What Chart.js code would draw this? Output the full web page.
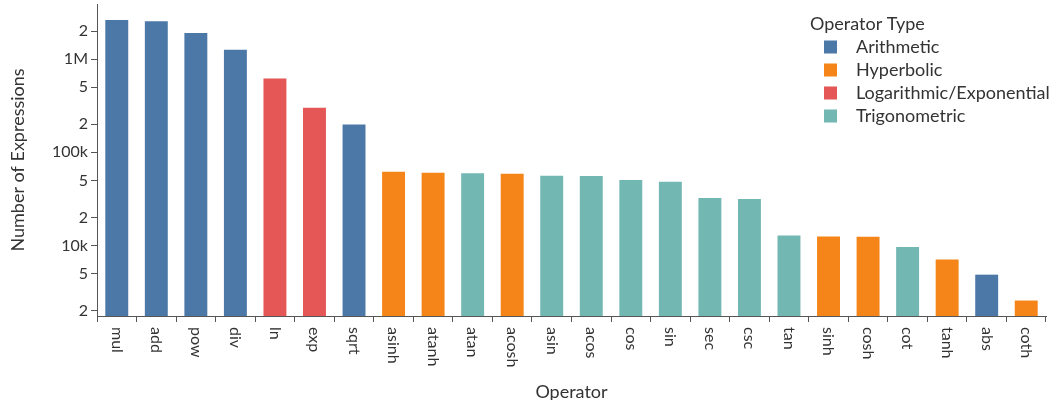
<!DOCTYPE html>
<html>
<head>
<meta charset="utf-8">
<script src="https://cdn.jsdelivr.net/npm/chart.js@4.4.1/dist/chart.umd.min.js"></script>
<style>
  html, body { margin: 0; padding: 0; background: #fff; }
  #wrap { width: 1060px; height: 400px; position: relative; }
</style>
</head>
<body>
<div id="wrap"><canvas id="chart"></canvas></div>
<script>
const operators = ["mul", "add", "pow", "div", "ln", "exp", "sqrt", "asinh", "atanh", "atan", "acosh", "asin",
  "acos", "cos", "sin", "sec", "csc", "tan", "sinh", "cosh", "cot", "tanh", "abs", "coth"];
const expressionCounts = [2620000, 2550000, 1910000, 1260000, 620000, 301000, 199000, 62000, 60400, 59500, 59000, 56000,
  55700, 50500, 48400, 32400, 31600, 12800, 12500, 12400, 9660, 7060, 4870, 2570];
const operatorTypes = ["Arithmetic", "Arithmetic", "Arithmetic", "Arithmetic", "Logarithmic/Exponential",
  "Logarithmic/Exponential", "Arithmetic", "Hyperbolic", "Hyperbolic", "Trigonometric", "Hyperbolic", "Trigonometric",
  "Trigonometric", "Trigonometric", "Trigonometric", "Trigonometric", "Trigonometric", "Trigonometric", "Hyperbolic",
  "Hyperbolic", "Trigonometric", "Hyperbolic", "Arithmetic", "Hyperbolic"];
const typeNames = ["Arithmetic", "Hyperbolic", "Logarithmic/Exponential", "Trigonometric"];
const typeColors = ["#4c78a8", "#f58518", "#e45756", "#72b7b2"];
const yTickValues = [2000, 5000, 10000, 20000, 50000, 100000, 200000, 500000, 1000000, 2000000];
const yTickLabels = ["2", "5", "10k", "2", "5", "100k", "2", "5", "1M", "2"];

const FONT = "Lato";
const TEXT_COLOR = "#333";
const AXIS_COLOR = "#555";

const barColors = operatorTypes.map((t) => typeColors[typeNames.indexOf(t)]);

// x tick labels read top-to-bottom, which chart.js can't do on its own
const xLabelPlugin = {
  id: "xLabels",
  afterDraw(chart) {
    const ctx = chart.ctx;
    const xs = chart.scales.x;
    ctx.save();
    ctx.font = "16px " + FONT;
    ctx.fillStyle = TEXT_COLOR;
    ctx.textAlign = "left";
    ctx.textBaseline = "middle";
    operators.forEach((op, i) => {
      ctx.save();
      ctx.translate(xs.getPixelForTick(i), xs.top + 11);
      ctx.rotate(Math.PI / 2);
      ctx.fillText(op, 0, 0);
      ctx.restore();
    });
    ctx.restore();
  },
};

// legend sits over the top right of the plot
const legendPlugin = {
  id: "typeLegend",
  afterDraw(chart) {
    const ctx = chart.ctx;
    const x0 = 810;
    ctx.save();
    ctx.font = "18px " + FONT;
    ctx.fillStyle = TEXT_COLOR;
    ctx.textAlign = "left";
    ctx.textBaseline = "middle";
    ctx.fillText("Operator Type", x0, 24);
    typeNames.forEach((name, i) => {
      const cy = 47 + i * 23;
      ctx.fillStyle = typeColors[i];
      ctx.fillRect(x0 + 14, cy - 6.5, 13, 13);
      ctx.fillStyle = TEXT_COLOR;
      ctx.fillText(name, x0 + 46, cy);
    });
    ctx.restore();
  },
};

new Chart(document.getElementById("chart").getContext("2d"), {
  type: "bar",
  data: {
    labels: operators,
    datasets: [
      {
        label: "Number of Expressions",
        data: expressionCounts,
        backgroundColor: barColors,
        borderWidth: 0,
        categoryPercentage: 1,
        barPercentage: 0.58,
      },
    ],
  },
  options: {
    responsive: true,
    maintainAspectRatio: false,
    animation: false,
    layout: {
      padding: { top: 4, right: 14, bottom: -3, left: 0 },
    },
    plugins: {
      legend: { display: false },
      tooltip: { enabled: false },
    },
    scales: {
      x: {
        type: "category",
        grid: {
          display: true,
          drawOnChartArea: false,
          drawTicks: true,
          tickLength: 6,
          color: AXIS_COLOR,
        },
        border: { display: true, color: AXIS_COLOR, width: 1 },
        ticks: { display: false, autoSkip: false },
        title: {
          display: true,
          text: "Operator",
          color: TEXT_COLOR,
          font: { family: FONT, size: 18 },
          padding: 0,
        },
        afterFit(scale) {
          scale.height = 87;
          scale.paddingLeft = 0;
          scale.paddingRight = 0;
        },
      },
      y: {
        type: "logarithmic",
        min: 1754,
        max: 3900000,
        grid: {
          display: true,
          drawOnChartArea: false,
          drawTicks: true,
          tickLength: 6,
          color: AXIS_COLOR,
        },
        border: { display: true, color: AXIS_COLOR, width: 1 },
        afterBuildTicks(scale) {
          scale.ticks = yTickValues.map((v) => ({ value: v }));
        },
        ticks: {
          color: TEXT_COLOR,
          font: { family: FONT, size: 16 },
          padding: 3,
          callback: (value, index) => yTickLabels[index],
        },
        title: {
          display: true,
          text: "Number of Expressions",
          color: TEXT_COLOR,
          font: { family: FONT, size: 18 },
          padding: { top: 7, bottom: 0 },
        },
        afterFit(scale) {
          scale.width = 97;
          scale.paddingTop = 0;
          scale.paddingBottom = 0;
        },
      },
    },
  },
  plugins: [xLabelPlugin, legendPlugin],
});
</script>
</body>
</html>
